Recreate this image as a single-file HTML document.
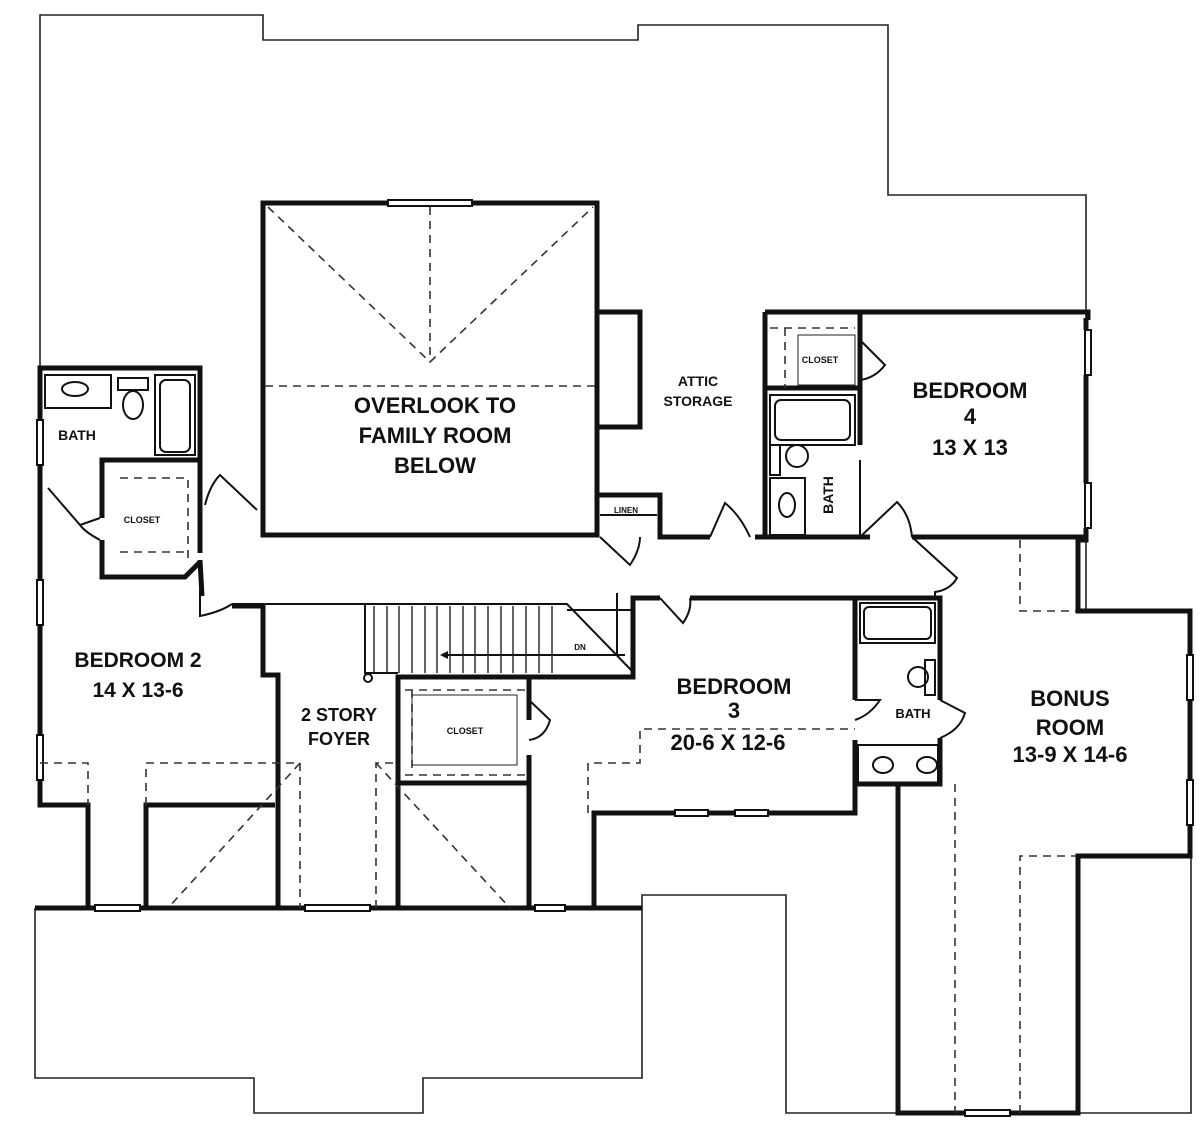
<!DOCTYPE html>
<html><head><meta charset="utf-8"><style>
html,body{margin:0;padding:0;background:#fff;}
svg{display:block}
text{font-family:"Liberation Sans",sans-serif;fill:#111;font-weight:bold;}
</style></head><body>
<svg width="1200" height="1144" viewBox="0 0 1200 1144" xmlns="http://www.w3.org/2000/svg">
<g fill="none" stroke="#222" stroke-width="1.6">
<path d="M40,368 V15 H263 V40 H638 V25 H888 V195 H1086 V318"/>
<path d="M35,908 V1078 H254 V1113 H423 V1078 H642 V895 H786 V1113 H898"/>
<path d="M1078,1113 H1191 V856"/>
<path d="M1086,540 V611"/>
</g>
<g fill="none" stroke="#111" stroke-width="5" stroke-linejoin="miter">
<path d="M388,203 H263 V535 H597 V203 H472"/>
<path d="M597,312 H640 V427 H597"/>
<path d="M597,495 H660 V537 H710"/>
<path d="M40,420 V368 H200 V553"/>
<path d="M102,518 V460 H200"/>
<path d="M102,540 V577 H185 L200,562"/>
<path d="M40,465 V580"/>
<path d="M40,625 V735"/>
<path d="M40,780 V805 H88 V908"/>
<path d="M146,908 V805 H275"/>
<path d="M202,596 L200,560"/>
<path d="M232,606 H263 V675 H278 V908"/>
<path d="M398,908 V677 H633 V598 H660"/>
<path d="M398,783 H529 V908"/>
<path d="M529,677 V720"/>
<path d="M529,755 V783"/>
<path d="M690,598 H855 V700"/>
<path d="M855,740 V813 H768"/>
<path d="M855,784 H898"/>
<path d="M855,598 H940 V700"/>
<path d="M940,738 V784 H898 V1113 H965"/>
<path d="M1010,1113 H1078 V856 H1190 V825"/>
<path d="M1190,780 V700"/>
<path d="M1190,655 V611 H1078 V540 H1086 V537 H912"/>
<path d="M870,537 H755"/>
<path d="M765,312 H1088 V320"/>
<path d="M765,537 V312"/>
<path d="M860,312 V388 H765"/>
<path d="M860,312 V348"/>
<path d="M860,376 V445"/>
<path d="M1086,318 V330"/>
<path d="M1086,375 V483"/>
<path d="M1086,528 V540"/>
<path d="M35,908 H95"/><path d="M140,908 H305"/><path d="M370,908 H535"/><path d="M565,908 H642"/>
<path d="M594,908 V813 H675"/><path d="M708,813 H735"/>
</g>
<g fill="none" stroke="#111" stroke-width="2">
<path d="M860,460 V535"/>
<rect x="388" y="200" width="84" height="6"/>
<rect x="37" y="420" width="6" height="45"/>
<rect x="37" y="580" width="6" height="45"/>
<rect x="37" y="735" width="6" height="45"/>
<rect x="95" y="905" width="45" height="6"/>
<rect x="305" y="905" width="65" height="6"/>
<rect x="535" y="905" width="30" height="6"/>
<rect x="675" y="810" width="33" height="6"/>
<rect x="735" y="810" width="33" height="6"/>
<rect x="965" y="1110" width="45" height="6"/>
<rect x="1187" y="655" width="6" height="45"/>
<rect x="1187" y="780" width="6" height="45"/>
<rect x="1085" y="330" width="6" height="45"/>
<rect x="1085" y="483" width="6" height="45"/>
<rect x="45" y="375" width="66" height="33"/>
<ellipse cx="75" cy="389" rx="13" ry="7"/>
<rect x="118" y="378" width="30" height="12"/>
<ellipse cx="133" cy="405" rx="10" ry="14"/>
<rect x="155" y="375" width="40" height="80"/>
<rect x="160" y="380" width="30" height="72" rx="6"/>
<rect x="770" y="395" width="85" height="50"/>
<rect x="775" y="400" width="75" height="40" rx="6"/>
<rect x="770" y="445" width="10" height="30"/>
<circle cx="797" cy="456" r="11"/>
<rect x="770" y="478" width="35" height="57"/>
<ellipse cx="787" cy="505" rx="8" ry="12"/>
<rect x="860" y="603" width="75" height="40"/>
<rect x="864" y="607" width="67" height="32" rx="5"/>
<rect x="925" y="660" width="10" height="35"/>
<circle cx="918" cy="677" r="10"/>
<rect x="858" y="745" width="80" height="38"/>
<ellipse cx="883" cy="765" rx="10" ry="8"/><ellipse cx="927" cy="765" rx="10" ry="8"/>
<path d="M600,515 H657"/>
<path d="M232,604 H567 L633,672"/>
<path d="M567,610 H633"/>
<path d="M617,593 V655"/>
<path d="M365,604 V673 H398"/>
<path d="M625,655 H442"/>
<circle cx="368" cy="678" r="4"/>
<path d="M48,488 L80,525 Q85,532 100,540"/>
<path d="M100,518 L80,525"/>
<path d="M205,505 Q210,485 220,475 L257,510"/>
<path d="M200,566 L200,616 Q220,612 232,604"/>
<path d="M600,537 L630,565 Q640,550 640,537"/>
<path d="M710,537 L725,503 Q740,515 750,537"/>
<path d="M860,537 L897,502 Q910,515 912,537"/>
<path d="M860,340 L885,365 Q875,378 860,380"/>
<path d="M912,537 L957,578 Q950,590 935,592 V598"/>
<path d="M660,598 L683,623 Q692,610 690,598"/>
<path d="M855,700 L880,700 Q870,715 855,720"/>
<path d="M940,700 L965,713 Q960,730 940,738"/>
<path d="M529,700 L550,720 Q545,738 529,740"/>
</g>
<g fill="none" stroke="#333" stroke-width="1.6" stroke-dasharray="8,6">
<path d="M268,207 L430,362 L593,207"/>
<path d="M430,207 V362"/>
<path d="M265,386 H597"/>
<path d="M40,763 H88 V805"/>
<path d="M146,805 V763 H300 V908"/>
<path d="M300,763 L168,908"/>
<path d="M376,908 V763 H398"/>
<path d="M376,763 L510,908"/>
<path d="M588,813 V763 H640 V729 H855"/>
<path d="M955,784 V1113"/>
<path d="M1020,1113 V856 H1076"/>
<path d="M1020,540 V611 H1076"/>
<path d="M405,690 H525"/><path d="M405,775 H525"/><path d="M412,690 V775"/>
<path d="M770,328 H855"/><path d="M785,328 V388"/>
<path d="M120,478 H188 V560"/><path d="M120,552 H185"/>
</g>
<g stroke="#222" stroke-width="1.4">
<path d="M374,606V673M387,606V673M399,606V673M412,606V673M425,606V673M437,606V673M450,606V673M463,606V673M475,606V673M488,606V673M501,606V673M513,606V673M526,606V673M539,606V673M552,606V673"/>
</g>
<g stroke="#222" fill="none" stroke-width="1"><rect x="412" y="695" width="105" height="70"/><rect x="798" y="335" width="57" height="50"/></g>
<g text-anchor="middle">
<text x="435" y="413" font-size="22">OVERLOOK TO</text>
<text x="435" y="443" font-size="22">FAMILY ROOM</text>
<text x="435" y="473" font-size="22">BELOW</text>
<text x="698" y="386" font-size="14">ATTIC</text>
<text x="698" y="406" font-size="14">STORAGE</text>
<text x="970" y="398" font-size="22">BEDROOM</text>
<text x="970" y="424" font-size="22">4</text>
<text x="970" y="455" font-size="22">13 X 13</text>
<text x="138" y="667" font-size="21">BEDROOM 2</text>
<text x="138" y="697" font-size="21">14 X 13-6</text>
<text x="339" y="721" font-size="18">2 STORY</text>
<text x="339" y="745" font-size="18">FOYER</text>
<text x="734" y="694" font-size="22">BEDROOM</text>
<text x="734" y="718" font-size="22">3</text>
<text x="728" y="750" font-size="22">20-6 X 12-6</text>
<text x="1070" y="706" font-size="22">BONUS</text>
<text x="1070" y="735" font-size="22">ROOM</text>
<text x="1070" y="762" font-size="22">13-9 X 14-6</text>
<text x="77" y="440" font-size="14">BATH</text>
<text x="913" y="718" font-size="13">BATH</text>
<text x="142" y="523" font-size="9">CLOSET</text>
<text x="465" y="734" font-size="9">CLOSET</text>
<text x="820" y="363" font-size="9">CLOSET</text>
<text x="626" y="513" font-size="8">LINEN</text>
<text x="580" y="650" font-size="8">DN</text>
<text transform="translate(833,495) rotate(-90)" font-size="14">BATH</text>
</g>
<path d="M440,655 l8,-4 v8z" fill="#111"/>
</svg>
</body></html>
